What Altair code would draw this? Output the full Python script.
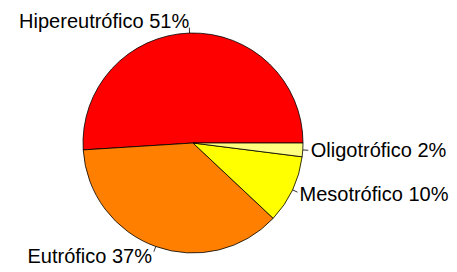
import math
import altair as alt
import pandas as pd

categories = ["Hipereutrófico", "Eutrófico", "Mesotrófico", "Oligotrófico"]
percents = [51, 37, 10, 2]
colors = ["#FF0000", "#FF8000", "#FFFF00", "#FFFF80"]

df = pd.DataFrame({"cat": categories, "pct": percents, "ord": list(range(len(categories)))})

W, H = 441, 264
CX, CY, R = 185, 135, 110
FONT = "Liberation Sans"
FS = 20

xs = alt.Scale(domain=[-CX / R, (W - CX) / R], nice=False, zero=False)
ys = alt.Scale(domain=[-(H - CY) / R, CY / R], nice=False, zero=False)

base = alt.Chart(df).transform_window(
    cum="sum(pct)", sort=[alt.SortField("ord")], frame=[None, 0]
).transform_joinaggregate(
    tot="sum(pct)"
).transform_calculate(
    a0="(datum.cum - datum.pct) / datum.tot * 2 * PI",
    a1="datum.cum / datum.tot * 2 * PI",
).transform_calculate(
    mid="(datum.a0 + datum.a1) / 2",
    t0="PI / 2 - datum.a1",
    t1="PI / 2 - datum.a0",
    c0="0",
).transform_calculate(
    lx0="cos(datum.mid)",
    ly0="sin(datum.mid)",
    lx1="1.05 * cos(datum.mid)",
    ly1="1.05 * sin(datum.mid)",
    tx="1.1 * cos(datum.mid)",
    ty="1.1 * sin(datum.mid)",
    label="datum.cat + ' ' + datum.pct + '%'",
)

pie = base.mark_arc(radius=R, stroke="black", strokeWidth=0.8).encode(
    x=alt.X("c0:Q", scale=xs, axis=None),
    y=alt.Y("c0:Q", scale=ys, axis=None),
    theta=alt.Theta("t0:Q", scale=None),
    theta2=alt.Theta2("t1:Q"),
    color=alt.Color("cat:N", scale=alt.Scale(domain=categories, range=colors), legend=None),
)

lines = base.mark_rule(color="black", strokeWidth=0.8).encode(
    x=alt.X("lx0:Q", scale=xs, axis=None),
    y=alt.Y("ly0:Q", scale=ys, axis=None),
    x2="lx1:Q",
    y2="ly1:Q",
)

text_left = base.transform_filter("cos(datum.mid) < 0").mark_text(
    align="right", baseline="middle", font=FONT, fontSize=FS, color="black"
).encode(
    x=alt.X("tx:Q", scale=xs, axis=None),
    y=alt.Y("ty:Q", scale=ys, axis=None),
    text="label:N",
)

text_right = base.transform_filter("cos(datum.mid) >= 0").mark_text(
    align="left", baseline="middle", font=FONT, fontSize=FS, color="black", dx=-3
).encode(
    x=alt.X("tx:Q", scale=xs, axis=None),
    y=alt.Y("ty:Q", scale=ys, axis=None),
    text="label:N",
)

chart = alt.layer(pie, lines, text_left, text_right).properties(
    width=W, height=H, autosize=alt.AutoSizeParams(type="none"), padding=0,
    background="white",
).configure_view(stroke=None)

chart.save("out.html", embed_options={"renderer": "svg", "actions": False})
